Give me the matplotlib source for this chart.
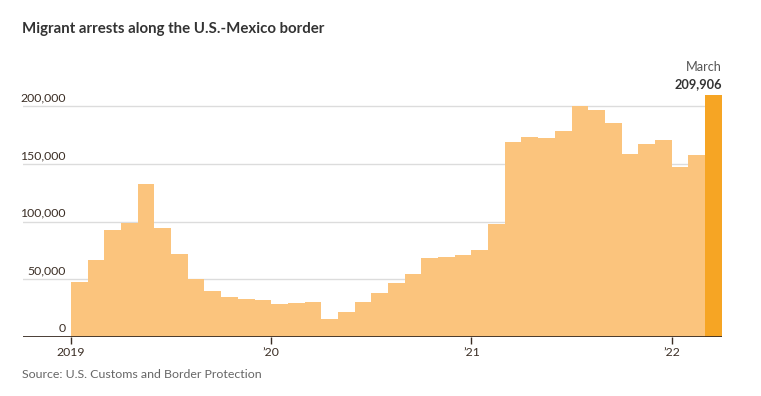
import matplotlib
matplotlib.use("Agg")
import matplotlib.pyplot as plt
import matplotlib.transforms as mtransforms
import numpy as np

# monthly arrests, Jan 2019 .. Mar 2022
arrests = [
    48000, 66500, 92500, 99100, 132400, 94500, 71700, 50000, 40200, 35000, 32900, 32400,
    28900, 29800, 30100, 15600, 21400, 30600, 38400, 46800, 54300, 68500, 69100, 70800,
    75100, 97700, 169100, 173400, 172300, 178600, 200300, 196200, 185300, 158700, 166800, 170500,
    147400, 157800, 209906,
]
year_labels = ["2019", "\u201920", "\u201921", "\u201922"]
y_ticks = [0, 50000, 100000, 150000, 200000]

plt.rcParams["font.family"] = ["Lato", "DejaVu Sans"]

W, H = 761, 396
fig = plt.figure(figsize=(W / 100, H / 100), dpi=100)
ax_left, ax_right, ax_bottom = 23, 721.7, 337
per_unit = 231 / 200000
y_top = 215000
ax_top = ax_bottom - y_top * per_unit
ax = fig.add_axes([ax_left / W, (H - ax_bottom) / H, (ax_right - ax_left) / W, (ax_bottom - ax_top) / H])

months = np.arange(len(arrests))
colors = ["#fbc47d"] * (len(arrests) - 1) + ["#f6a524"]
ax.bar(months, arrests, width=1.0, align="edge", color=colors, linewidth=0, zorder=2)

first_bar_px = 71
month_px = (ax_right - first_bar_px) / len(arrests)
ax.set_xlim(-(first_bar_px - ax_left) / month_px, len(arrests))
ax.set_ylim(0, y_top)

for spine in ax.spines.values():
    spine.set_visible(False)
ax.axhline(0, color="#3b2e25", linewidth=1.3, zorder=3)

# gridlines with labels sitting on top of them
trans = mtransforms.blended_transform_factory(ax.transAxes, ax.transData)
label_x = (65.5 - ax_left) / (ax_right - ax_left)
for v in y_ticks:
    if v > 0:
        ax.axhline(v, color="#dcdcdc", linewidth=1.0, zorder=1)
    ax.text(label_x, v + 2400, f"{v:,}", transform=trans, ha="right", va="bottom",
            fontsize=8.8, color="#3b2e25")
ax.set_yticks([])

ax.set_xticks(np.arange(0, len(arrests), 12))
ax.set_xticklabels(year_labels, fontsize=8.8, color="#3b2e25")
ax.tick_params(axis="x", length=5, width=1, color="#3b2e25", pad=2)

last = len(arrests) - 1
ax.text(last + 1, arrests[-1] + 18500, "March", ha="right", va="bottom", fontsize=9.2, color="#555555")
ax.text(last + 1, arrests[-1] + 4000, f"{arrests[-1]:,}", ha="right", va="bottom",
        fontsize=9.2, fontweight="bold", color="#333333")

fig.text(22 / W, 1 - 29 / H, "Migrant arrests along the U.S.-Mexico border", ha="left", va="center",
         fontsize=10.8, fontweight="bold", color="#333333")
fig.text(22 / W, 1 - 374 / H, "Source: U.S. Customs and Border Protection", ha="left", va="center",
         fontsize=8.9, color="#666666")

fig.savefig("out.png", dpi=100, facecolor="white")
